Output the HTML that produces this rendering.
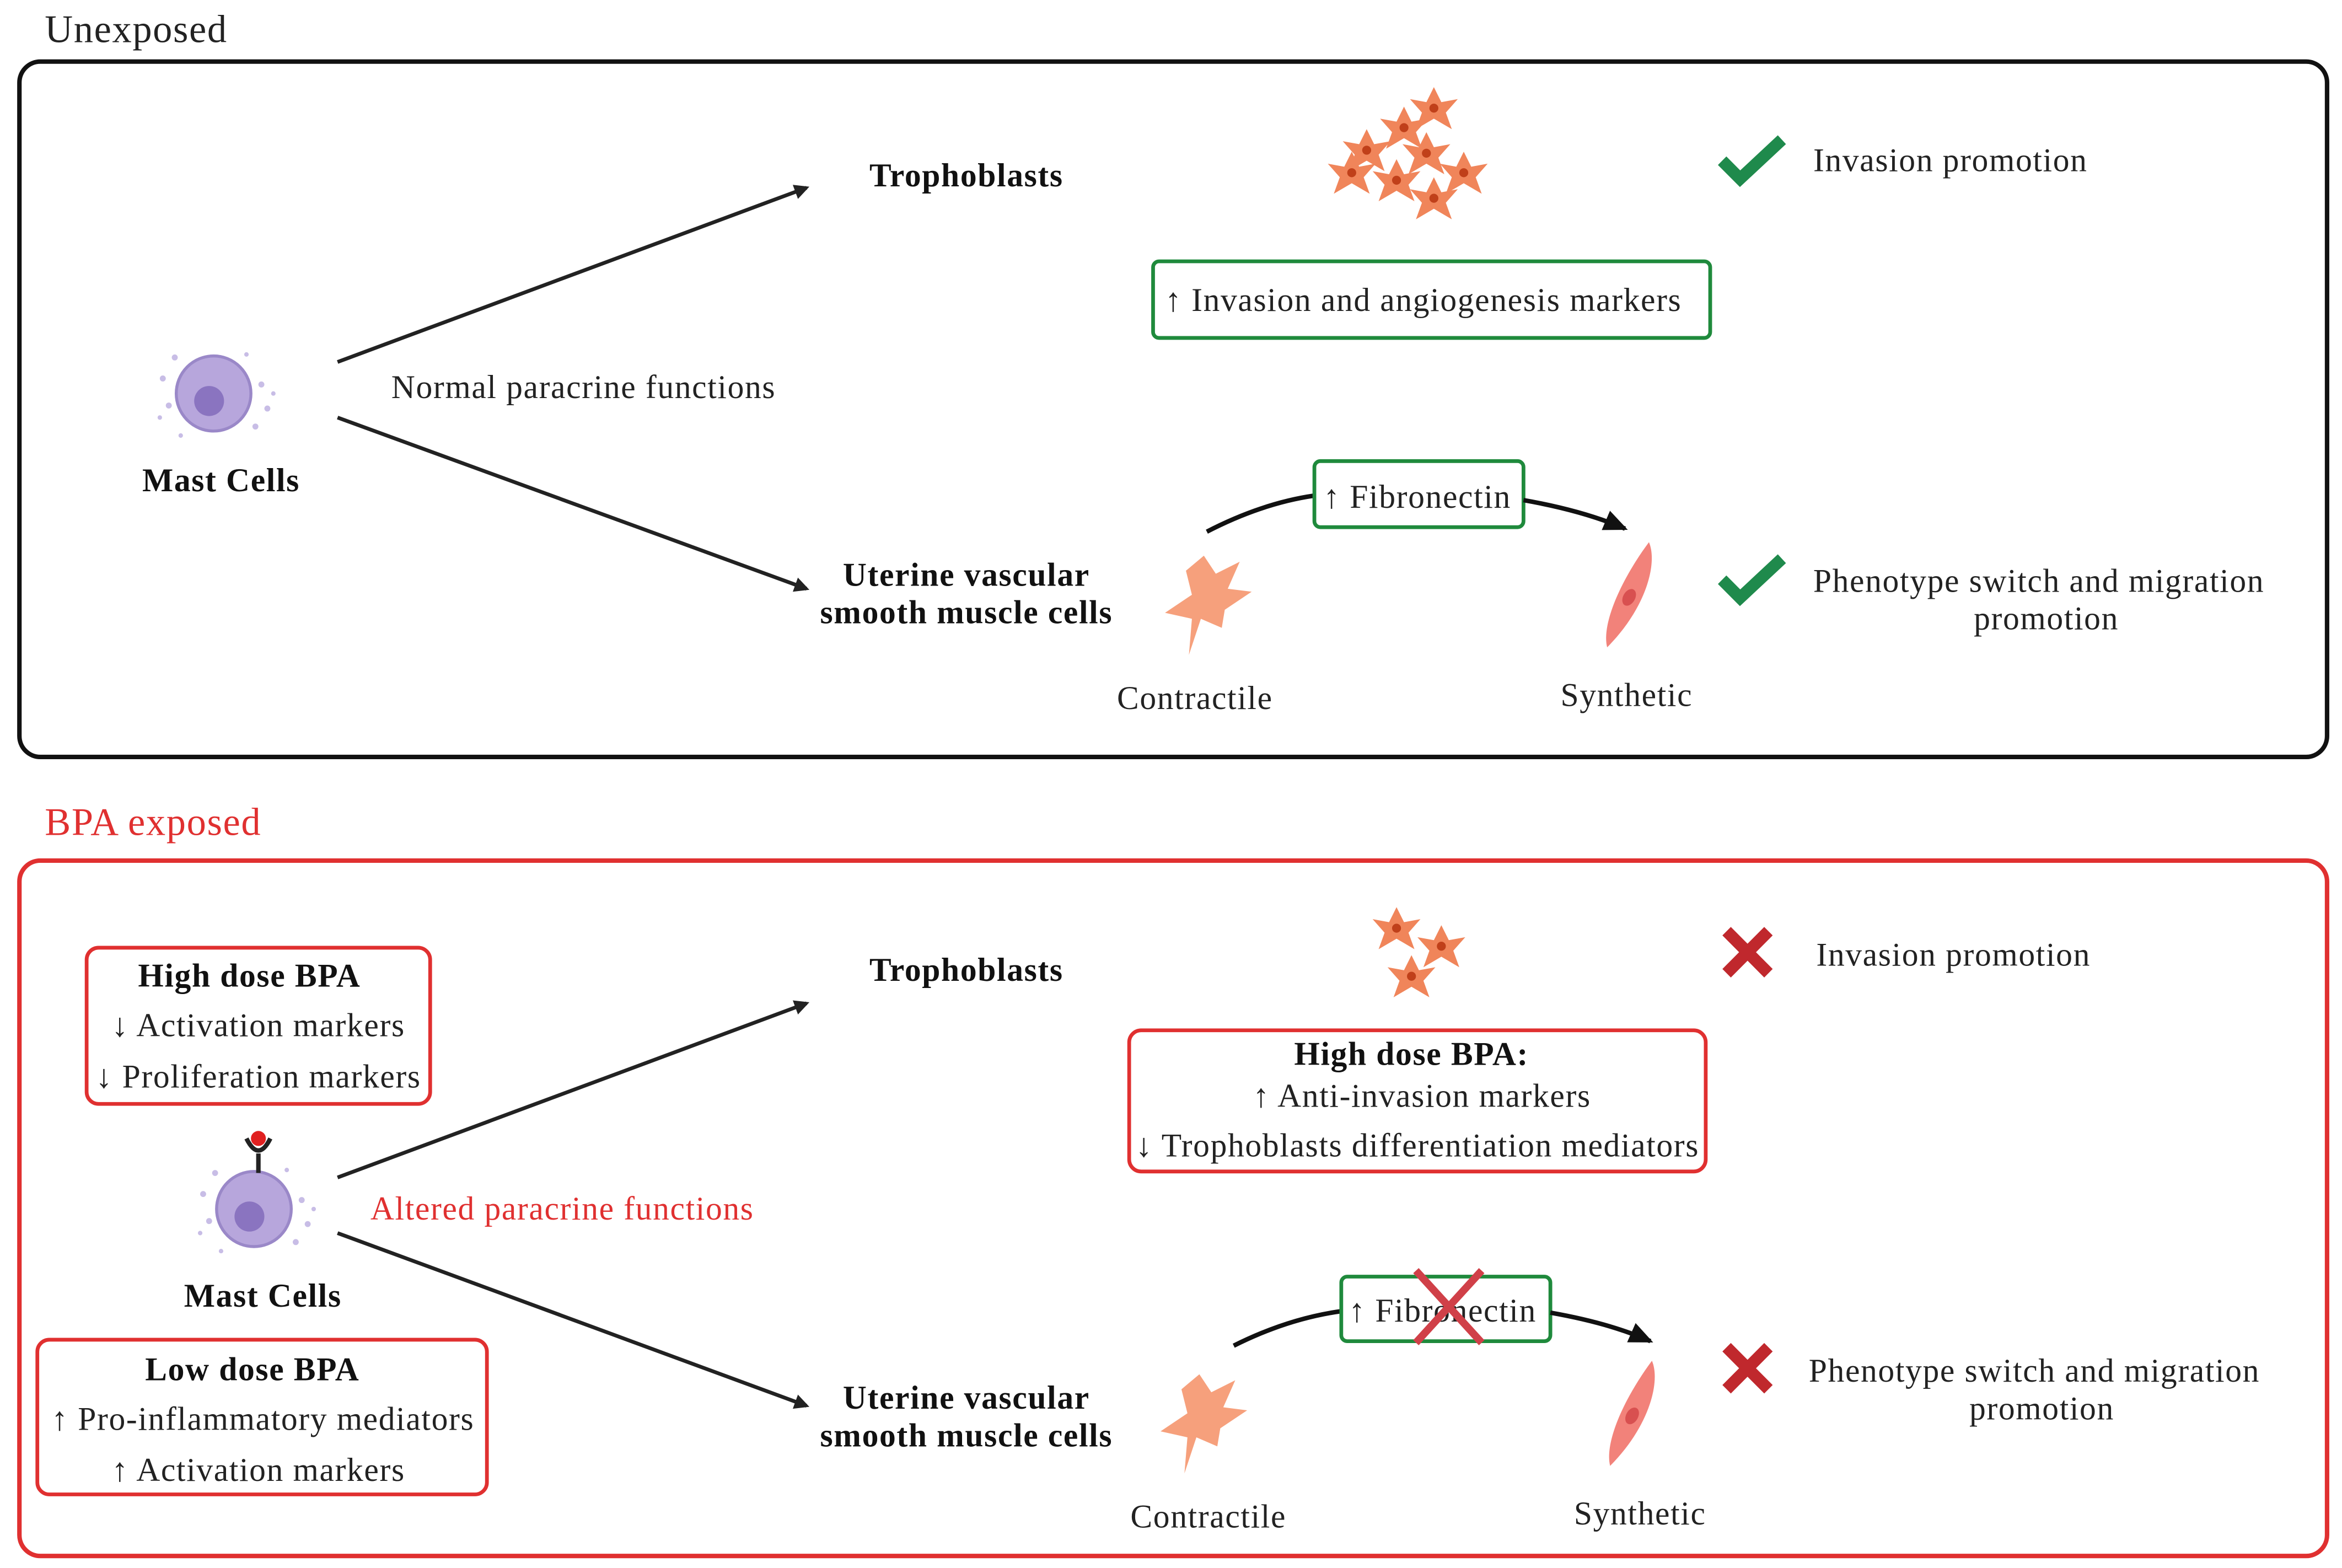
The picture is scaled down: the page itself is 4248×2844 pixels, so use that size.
<!DOCTYPE html>
<html><head><meta charset="utf-8"><style>
html,body{margin:0;padding:0;background:#fff}
svg{display:block}
text{font-family:"Liberation Serif",serif;font-size:22px;letter-spacing:0.6px;fill:#222}
.b{font-weight:bold;fill:#111}
.c{text-anchor:middle}
</style></head><body>
<svg width="4248" height="2844" viewBox="0 0 1568 1044" preserveAspectRatio="none" xmlns="http://www.w3.org/2000/svg">
<defs>
<marker id="ah" markerWidth="10" markerHeight="10" refX="8" refY="5" orient="auto" markerUnits="userSpaceOnUse"><path d="M0,0 L10,5 L0,10 Z" fill="#222"/></marker>
<marker id="ah2" markerWidth="16" markerHeight="14" refX="14" refY="7" orient="auto" markerUnits="userSpaceOnUse"><path d="M0,0 L16,7 L0,14 Z" fill="#111"/></marker>
<g id="mast">
<circle cx="0" cy="0" r="25" fill="#b7a6dc" stroke="#9a88c8" stroke-width="2"/>
<circle cx="-3" cy="5" r="10" fill="#8a74c0"/>
<g fill="#c8bde6"><circle cx="-34" cy="-10" r="2"/><circle cx="-30" cy="8" r="2"/><circle cx="32" cy="-6" r="2"/><circle cx="36" cy="10" r="2"/><circle cx="-26" cy="-24" r="2"/><circle cx="28" cy="22" r="2"/><circle cx="-36" cy="16" r="1.5"/><circle cx="40" cy="0" r="1.5"/><circle cx="-22" cy="28" r="1.5"/><circle cx="22" cy="-26" r="1.5"/></g>
</g>
<g id="troph">
<path d="M0,-14 L5,-4 L16,-6 L8,3 L12,14 L0,7 L-12,14 L-8,3 L-16,-6 L-5,-4 Z" fill="#f0855a"/>
<circle cx="0" cy="0" r="3" fill="#c0401a"/>
</g>
<g id="contr">
<path d="M-2,-30 L6,-18 L22,-26 L14,-8 L30,-6 L12,6 L10,18 L-4,12 L-12,36 L-10,12 L-28,8 L-10,-4 L-14,-20 Z" fill="#f6a07c"/>
</g>
<g id="synth">
<path d="M14,-34 C20,-20 12,10 -14,36 C-18,20 -4,-10 14,-34 Z" fill="#f2827a"/>
<ellipse cx="2" cy="2" rx="4" ry="6" fill="#d85050" transform="rotate(30)"/>
</g>
<g id="check"><path d="M-20,0 L-8,12 L20,-14" stroke="#1f8a4c" stroke-width="8" fill="none"/></g>
<g id="xx"><path d="M-14,-14 L14,14 M14,-14 L-14,14" stroke="#c0282d" stroke-width="8"/></g>
</defs>

<text x="30" y="28" style="font-size:26px">Unexposed</text>
<rect x="13" y="41" width="1545" height="463" rx="14" fill="none" stroke="#111" stroke-width="3"/>
<line x1="226" y1="241" x2="540" y2="125" stroke="#222" stroke-width="2.5" marker-end="url(#ah)"/>
<line x1="226" y1="278" x2="540" y2="392" stroke="#222" stroke-width="2.5" marker-end="url(#ah)"/>
<text x="647" y="124" class="b c">Trophoblasts</text>
<use href="#troph" x="915" y="100"/><use href="#troph" x="940" y="85"/><use href="#troph" x="960" y="72"/><use href="#troph" x="955" y="102"/><use href="#troph" x="935" y="120"/><use href="#troph" x="980" y="115"/><use href="#troph" x="960" y="132"/><use href="#troph" x="905" y="115"/>
<use href="#check" x="1173" y="107"/>
<text x="1214" y="114">Invasion promotion</text>
<rect x="772" y="174" width="373" height="51" rx="4" fill="none" stroke="#1f8a3c" stroke-width="2.5"/>
<text x="780" y="207">↑ Invasion and angiogenesis markers</text>
<use href="#mast" x="143" y="262"/>
<text x="148" y="327" class="b c">Mast Cells</text>
<text x="262" y="265">Normal paracrine functions</text>
<text x="647" y="390" class="b c">Uterine vascular</text>
<text x="647" y="415" class="b c">smooth muscle cells</text>
<path d="M808,354 Q845,335 880,330" stroke="#111" stroke-width="3" fill="none"/>
<rect x="880" y="307" width="140" height="44" rx="4" fill="none" stroke="#1f8a3c" stroke-width="2.5"/>
<text x="886" y="338">↑ Fibronectin</text>
<path d="M1020,333 Q1060,340 1088,352" stroke="#111" stroke-width="3" fill="none" marker-end="url(#ah2)"/>
<use href="#contr" x="808" y="400"/>
<text x="800" y="472" class="c">Contractile</text>
<use href="#synth" x="1090" y="395"/>
<text x="1089" y="470" class="c">Synthetic</text>
<use href="#check" x="1173" y="386"/>
<text x="1365" y="394" class="c">Phenotype switch and migration</text>
<text x="1370" y="419" class="c">promotion</text>

<text x="30" y="556" style="font-size:26px;fill:#e03030">BPA exposed</text>
<rect x="13" y="573" width="1545" height="463" rx="14" fill="none" stroke="#e03030" stroke-width="3"/>
<rect x="58" y="631" width="230" height="104" rx="8" fill="none" stroke="#e03030" stroke-width="2.5"/>
<text x="167" y="657" class="b c">High dose BPA</text>
<text x="173" y="690" class="c">↓ Activation markers</text>
<text x="173" y="724" class="c">↓ Proliferation markers</text>
<line x1="226" y1="784" x2="540" y2="668" stroke="#222" stroke-width="2.5" marker-end="url(#ah)"/>
<line x1="226" y1="821" x2="540" y2="936" stroke="#222" stroke-width="2.5" marker-end="url(#ah)"/>
<text x="647" y="653" class="b c">Trophoblasts</text>
<use href="#troph" x="935" y="618"/><use href="#troph" x="965" y="630"/><use href="#troph" x="945" y="650"/>
<use href="#xx" x="1170" y="634"/>
<text x="1216" y="643">Invasion promotion</text>
<rect x="756" y="686" width="386" height="94" rx="8" fill="none" stroke="#e03030" stroke-width="2.5"/>
<text x="945" y="709" class="b c">High dose BPA:</text>
<text x="952" y="737" class="c">↑ Anti-invasion markers</text>
<text x="949" y="770" class="c">↓ Trophoblasts differentiation mediators</text>
<use href="#mast" x="170" y="805"/>
<line x1="173" y1="781" x2="173" y2="768" stroke="#222" stroke-width="3"/>
<path d="M165,758 Q173,774 181,758" stroke="#222" stroke-width="3" fill="none"/>
<circle cx="173" cy="758" r="5" fill="#e02020"/>
<text x="248" y="812" style="fill:#e03030">Altered paracrine functions</text>
<text x="176" y="870" class="b c">Mast Cells</text>
<rect x="25" y="892" width="301" height="103" rx="8" fill="none" stroke="#e03030" stroke-width="2.5"/>
<text x="169" y="919" class="b c">Low dose BPA</text>
<text x="176" y="952" class="c">↑ Pro-inflammatory mediators</text>
<text x="173" y="986" class="c">↑ Activation markers</text>
<text x="647" y="938" class="b c">Uterine vascular</text>
<text x="647" y="963" class="b c">smooth muscle cells</text>
<path d="M826,896 Q862,878 898,873" stroke="#111" stroke-width="3" fill="none"/>
<rect x="898" y="850" width="140" height="43" rx="4" fill="none" stroke="#1f8a3c" stroke-width="2.5"/>
<text x="903" y="880">↑ Fibronectin</text>
<path d="M948,846 L992,894 M992,846 L948,894" stroke="#d04048" stroke-width="5"/>
<path d="M1038,874 Q1078,881 1105,893" stroke="#111" stroke-width="3" fill="none" marker-end="url(#ah2)"/>
<use href="#contr" x="805" y="945"/>
<text x="809" y="1017" class="c">Contractile</text>
<use href="#synth" x="1092" y="940"/>
<text x="1098" y="1015" class="c">Synthetic</text>
<use href="#xx" x="1170" y="911"/>
<text x="1362" y="920" class="c">Phenotype switch and migration</text>
<text x="1367" y="945" class="c">promotion</text>
</svg>
</body></html>
